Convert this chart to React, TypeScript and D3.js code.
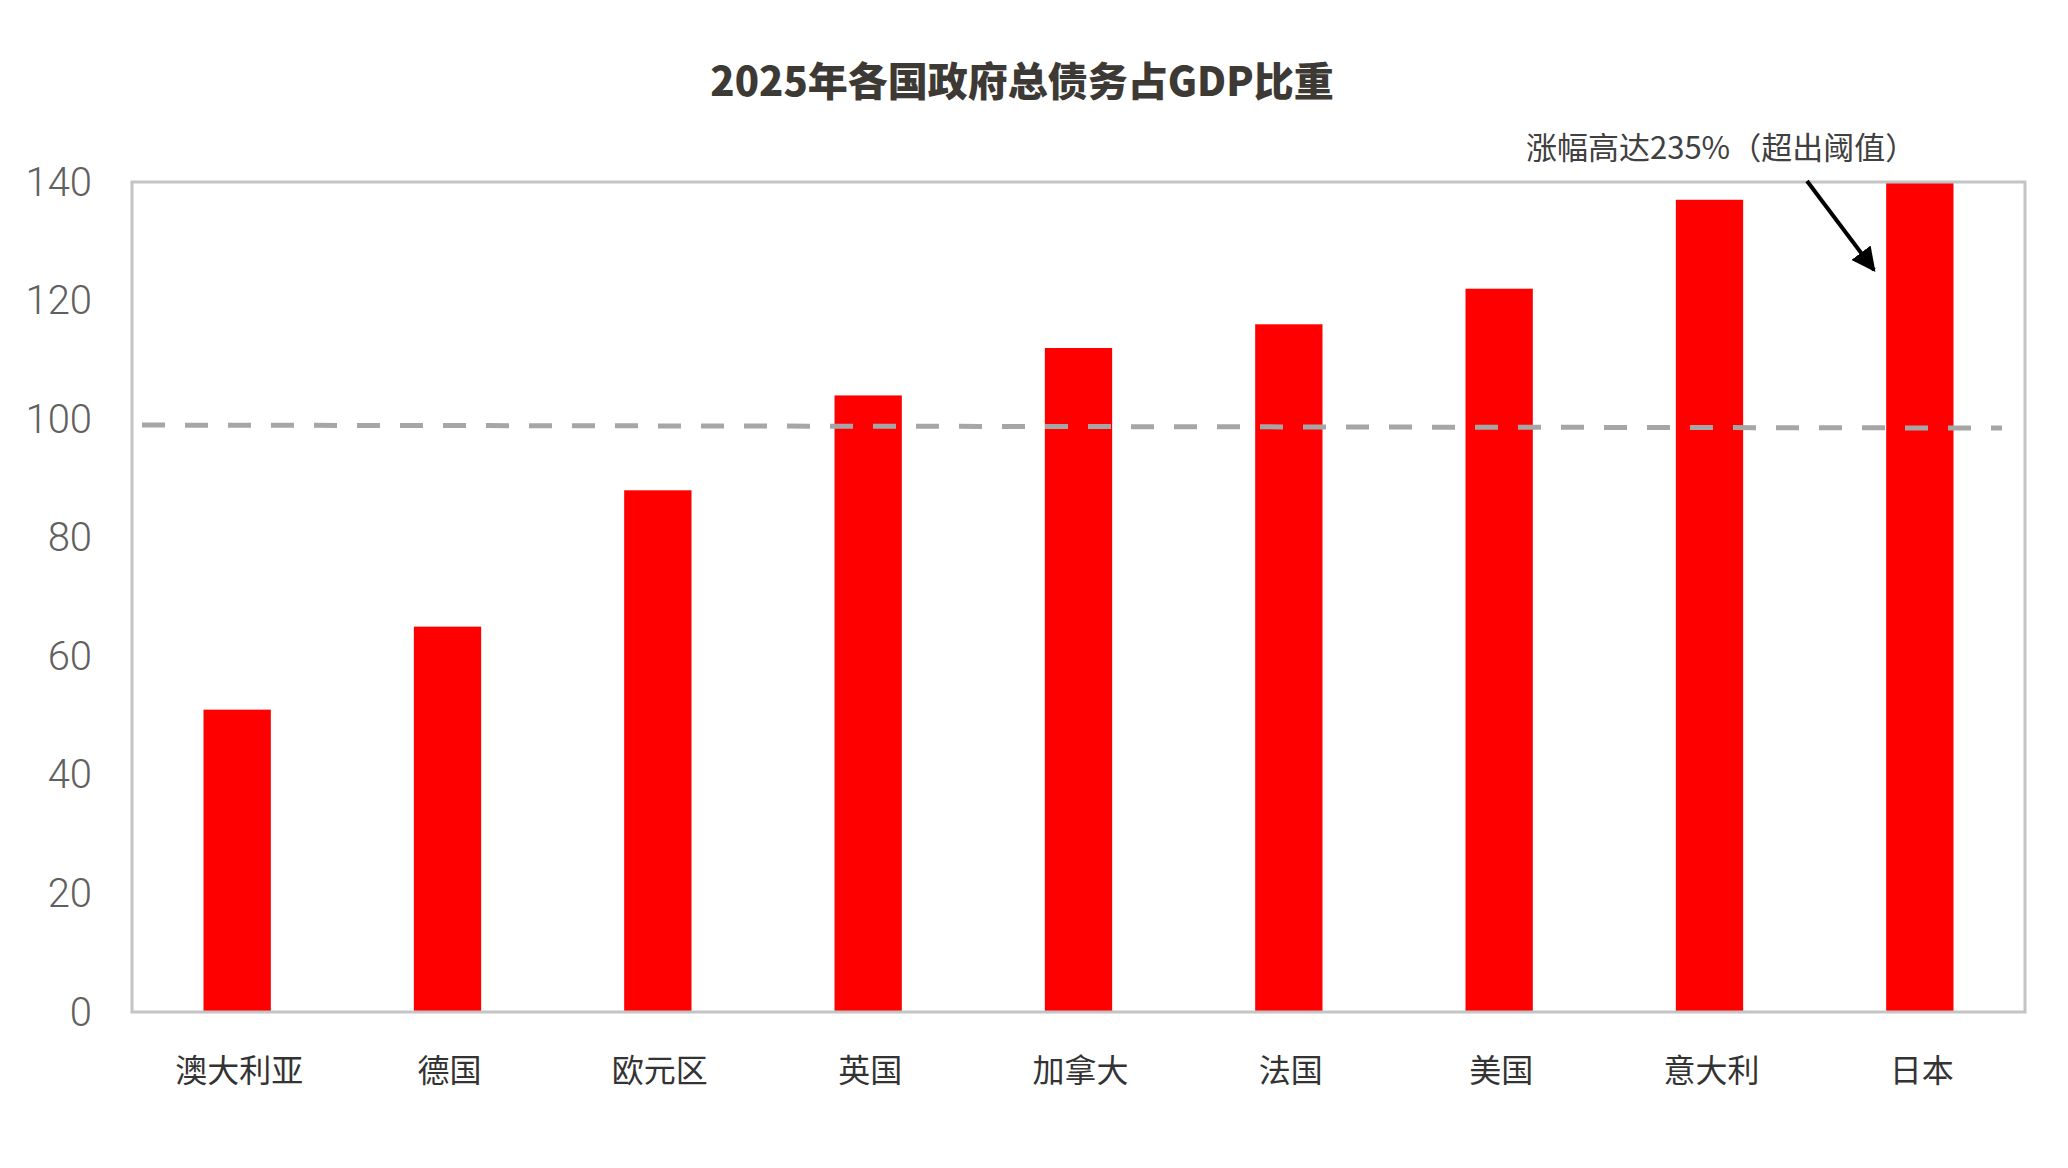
import { useEffect, useRef } from 'react'
import * as d3 from 'd3'

const countries = ['澳大利亚', '德国', '欧元区', '英国', '加拿大', '法国', '美国', '意大利', '日本']
const debtRatio = [51, 65, 88, 104, 112, 116, 122, 137, 235]
const yTicks = [0, 20, 40, 60, 80, 100, 120, 140]
const threshold = [99, 98.5] // dashed reference line, left end / right end
const title = '2025年各国政府总债务占GDP比重'
const note = '涨幅高达235%（超出阈值）'

const W = 2068, H = 1168
const CJK = '"Noto Sans CJK SC", "Noto Sans", sans-serif'

export default function App() {
  const ref = useRef<SVGSVGElement>(null)

  useEffect(() => {
    document.body.style.margin = '0'
    const svg = d3.select(ref.current!)
    svg.selectAll('*').remove()

    const left = 132, right = 2025, top = 182, bottom = 1012

    const x = d3.scaleBand<string>().domain(countries).range([left, right]).padding(0)
    const y = d3.scaleLinear().domain([0, 140]).range([bottom, top]).clamp(true)
    const barW = x.bandwidth() * 0.32

    svg.append('rect').attr('width', W).attr('height', H).attr('fill', '#fff')

    // title
    svg.append('text').attr('x', 1022).attr('y', 79)
      .attr('text-anchor', 'middle').attr('dominant-baseline', 'central')
      .attr('font-family', CJK).attr('font-weight', 900).attr('font-size', 40)
      .attr('fill', '#3d3935').text(title)

    // bars
    svg.append('g').selectAll('rect').data(countries).join('rect')
      .attr('x', d => x(d)! + x.bandwidth() / 2 - barW / 2)
      .attr('width', barW)
      .attr('y', (_, i) => y(debtRatio[i]))
      .attr('height', (_, i) => bottom - y(debtRatio[i]))
      .attr('fill', '#ff0000')

    // threshold
    svg.append('line')
      .attr('x1', left + 10).attr('x2', right - 23)
      .attr('y1', y(threshold[0])).attr('y2', y(threshold[1]))
      .attr('stroke', '#a6a6a6').attr('stroke-width', 5)
      .attr('stroke-dasharray', '23 20')

    // frame
    svg.append('rect').attr('x', left).attr('y', top)
      .attr('width', right - left).attr('height', bottom - top)
      .attr('fill', 'none').attr('stroke', '#c4c4c4').attr('stroke-width', 3)

    // y tick labels
    svg.append('g').selectAll('text').data(yTicks).join('text')
      .attr('x', 92).attr('y', d => y(d))
      .attr('text-anchor', 'end').attr('dominant-baseline', 'central')
      .attr('font-family', 'Roboto, "Liberation Sans", sans-serif').attr('font-weight', 300)
      .attr('font-size', 40).attr('fill', '#606060')
      .text(d => d)

    // category labels
    svg.append('g').selectAll('text').data(countries).join('text')
      .attr('x', d => x(d)! + x.bandwidth() / 2 + 2).attr('y', 1068)
      .attr('text-anchor', 'middle').attr('dominant-baseline', 'central')
      .attr('font-family', CJK).attr('font-size', 32).attr('fill', '#333')
      .text(d => d)

    // annotation
    svg.append('text').attr('x', 1526).attr('y', 145)
      .attr('dominant-baseline', 'central')
      .attr('font-family', CJK).attr('font-size', 31).attr('fill', '#404040')
      .text(note)

    svg.append('defs').append('marker').attr('id', 'arr')
      .attr('viewBox', '0 0 10 10').attr('refX', 9).attr('refY', 5)
      .attr('markerWidth', 6).attr('markerHeight', 6).attr('orient', 'auto')
      .append('path').attr('d', 'M0,0 L10,5 L0,10 Z').attr('fill', '#000')

    svg.append('line').attr('x1', 1807).attr('y1', 181).attr('x2', 1874).attr('y2', 270)
      .attr('stroke', '#000').attr('stroke-width', 4).attr('marker-end', 'url(#arr)')
  }, [])

  return <svg ref={ref} width={W} height={H} style={{ display: 'block' }} />
}
